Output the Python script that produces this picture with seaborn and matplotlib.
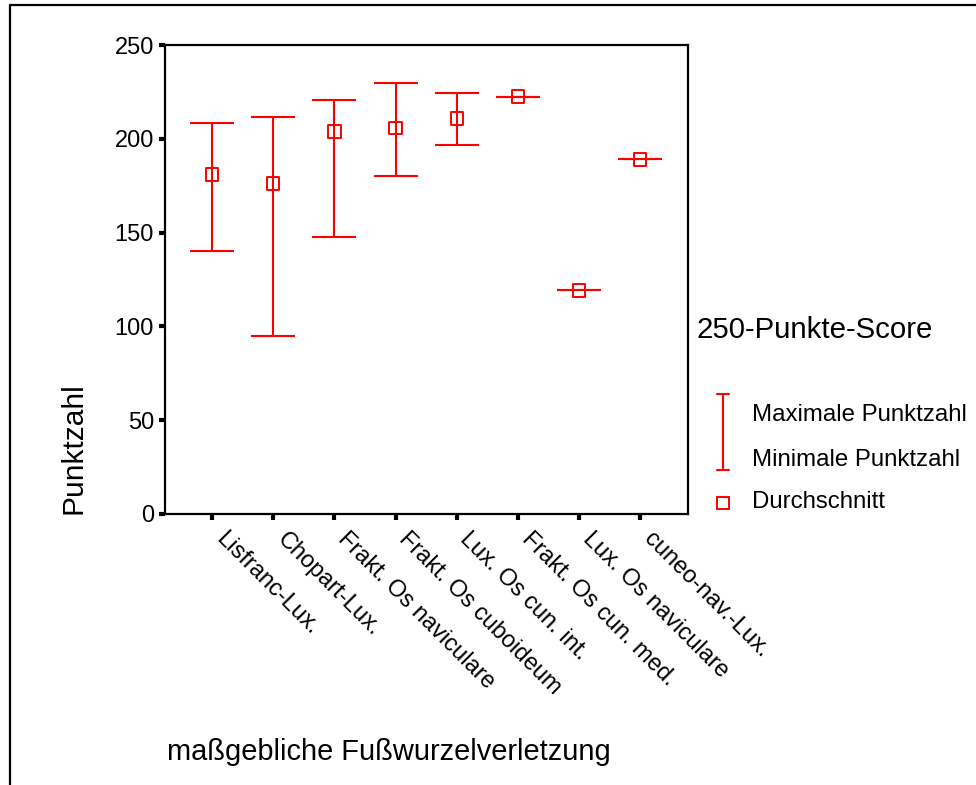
import numpy as np
import pandas as pd
import matplotlib
matplotlib.use("Agg")
import matplotlib.pyplot as plt
import matplotlib.lines as mlines
import matplotlib.transforms as mtransforms
import seaborn as sns

# data
categories = [
    "Lisfranc-Lux.",
    "Chopart-Lux.",
    "Frakt. Os naviculare",
    "Frakt. Os cuboideum",
    "Lux. Os cun. int.",
    "Frakt. Os cun. med.",
    "Lux. Os naviculare",
    "cuneo-nav.-Lux.",
]
max_score = [208.5, 211.5, 220.5, 229.5, 224.5, 222.5, 119.2, 189.0]
min_score = [140.0, 94.7, 147.6, 180.2, 196.9, 222.5, 119.2, 189.0]
mean_score = [181.0, 176.2, 203.8, 205.8, 210.8, 222.5, 119.2, 189.0]
y_ticks = [0, 50, 100, 150, 200, 250]

RED = "#ff0000"

sns.set_style("white")
plt.rcParams["font.family"] = ["Liberation Sans", "DejaVu Sans"]
plt.rcParams["text.color"] = "black"
plt.rcParams["xtick.color"] = "black"
plt.rcParams["ytick.color"] = "black"

df = pd.DataFrame({"category": categories, "max": max_score,
                   "min": min_score, "mean": mean_score})
df["pos"] = np.arange(len(df))

fig = plt.figure(figsize=(9.76, 7.85), dpi=100)
ax = fig.add_axes([165 / 976, 1 - 514 / 785, 523 / 976, 469 / 785])

# min-max ranges
ax.errorbar(df["pos"], df["mean"],
            yerr=[df["mean"] - df["min"], df["max"] - df["mean"]],
            fmt="none", ecolor=RED, elinewidth=1.5, capsize=16, capthick=1.5, zorder=2)
# means
sns.scatterplot(data=df, x="pos", y="mean", ax=ax, marker="s", s=80,
                facecolor="none", edgecolor=RED, linewidth=1.4, zorder=3, legend=False)

ax.set_xlim(-0.77, 7.78)
ax.set_ylim(0, 250)
ax.set_yticks(y_ticks)
ax.set_xticks(df["pos"])
ax.set_xticklabels([])
ax.set_xlabel("")
ax.set_ylabel("")
ax.tick_params(axis="both", direction="out", length=4, width=3, color="black",
               labelcolor="black", labelsize=17, pad=4, bottom=True, left=True)
for sp in ax.spines.values():
    sp.set_visible(True)
    sp.set_color("black")
    sp.set_linewidth(1.6)

# rotated category labels
offset = mtransforms.ScaledTranslation(5 / 72, -16 / 72, fig.dpi_scale_trans)
for p, lab in zip(df["pos"], df["category"]):
    ax.text(p, 0, lab, transform=ax.get_xaxis_transform() + offset,
            rotation=-45, rotation_mode="anchor", ha="left", va="center",
            fontsize=17)

# axis titles
fig.text(73 / 976, 1 - 514 / 785, "Punktzahl", rotation=90, ha="center",
         va="bottom", fontsize=21.5)
fig.text(167 / 976, 1 - 752 / 785, "maßgebliche Fußwurzelverletzung",
         ha="left", va="center", fontsize=20.9)

# legend drawn by hand
fig.text(697 / 976, 1 - 330 / 785, "250-Punkte-Score", ha="left", va="center",
         fontsize=21.2)
fx = lambda px: px / 976
fy = lambda py: 1 - py / 785
fig.add_artist(mlines.Line2D([fx(723), fx(723)], [fy(394), fy(470)], color=RED, lw=1.5))
fig.add_artist(mlines.Line2D([fx(717), fx(729)], [fy(394), fy(394)], color=RED, lw=1.5))
fig.add_artist(mlines.Line2D([fx(717), fx(729)], [fy(470), fy(470)], color=RED, lw=1.5))
fig.add_artist(mlines.Line2D([fx(723)], [fy(503)], marker="s", markersize=8,
                             markerfacecolor="none", markeredgecolor=RED,
                             markeredgewidth=1.4, linestyle="none"))
fig.text(fx(752), fy(415), "Maximale Punktzahl", ha="left", va="center", fontsize=17.3)
fig.text(fx(752), fy(460), "Minimale Punktzahl", ha="left", va="center", fontsize=17.3)
fig.text(fx(752), fy(502), "Durchschnitt", ha="left", va="center", fontsize=17.3)

# outer frame (left and top edges)
fig.add_artist(mlines.Line2D([fx(10), fx(10)], [fy(5), 0], color="black", lw=1.6))
fig.add_artist(mlines.Line2D([fx(10), 1], [fy(5), fy(5)], color="black", lw=1.6))

fig.savefig("out.png", dpi=100, facecolor="white")
